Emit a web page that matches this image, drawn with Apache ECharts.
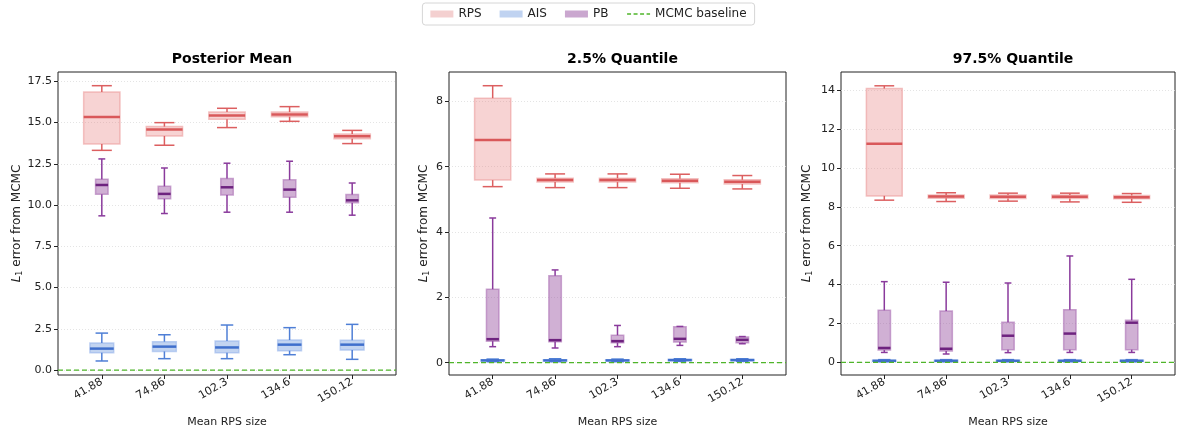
<!DOCTYPE html>
<html>
<head>
<meta charset="utf-8">
<script src="https://cdn.jsdelivr.net/npm/echarts@6/dist/echarts.min.js"></script>
<style>
  html, body { margin: 0; padding: 0; background: #fff; }
  #chart { width: 1177px; height: 429px; }
</style>
</head>
<body>
<div id="chart"></div>
<script>
// x categories
const sizes = ['41.88', '74.86', '102.3', '134.6', '150.12'];

// each box: [lower whisker, Q1, median, Q3, upper whisker]
const meanRPS = [[13.32, 13.71, 15.34, 16.85, 17.24], [13.63, 14.19, 14.59, 14.76, 15.0], [14.70, 15.2, 15.44, 15.64, 15.87], [15.08, 15.36, 15.5, 15.64, 15.97], [13.73, 14.03, 14.17, 14.31, 14.53]];
const meanAIS = [[0.55, 1.05, 1.30, 1.64, 2.24], [0.69, 1.13, 1.42, 1.72, 2.14], [0.69, 1.05, 1.37, 1.76, 2.73], [0.93, 1.17, 1.54, 1.82, 2.57], [0.65, 1.21, 1.54, 1.80, 2.77]];
const meanPB = [[9.35, 10.66, 11.22, 11.57, 12.80], [9.49, 10.38, 10.68, 11.14, 12.25], [9.57, 10.62, 11.08, 11.61, 12.54], [9.57, 10.48, 10.94, 11.53, 12.66], [9.39, 10.15, 10.29, 10.64, 11.34]];

const lowRPS = [[5.39, 5.59, 6.82, 8.10, 8.48], [5.36, 5.53, 5.59, 5.65, 5.78], [5.36, 5.53, 5.59, 5.65, 5.78], [5.34, 5.51, 5.57, 5.63, 5.77], [5.32, 5.47, 5.54, 5.60, 5.73]];
const lowAIS = [[0.03, 0.05, 0.07, 0.09, 0.11], [0.03, 0.05, 0.07, 0.09, 0.12], [0.03, 0.05, 0.07, 0.09, 0.11], [0.04, 0.06, 0.08, 0.10, 0.12], [0.04, 0.06, 0.08, 0.10, 0.12]];
const lowPB = [[0.49, 0.66, 0.72, 2.25, 4.43], [0.45, 0.64, 0.69, 2.66, 2.84], [0.49, 0.61, 0.66, 0.84, 1.14], [0.53, 0.63, 0.73, 1.10, 1.11], [0.58, 0.61, 0.70, 0.79, 0.80]];

const highRPS = [[8.34, 8.56, 11.24, 14.08, 14.22], [8.27, 8.44, 8.53, 8.61, 8.72], [8.29, 8.43, 8.51, 8.60, 8.70], [8.25, 8.43, 8.51, 8.60, 8.70], [8.23, 8.41, 8.49, 8.58, 8.68]];
const highAIS = [[0.03, 0.05, 0.08, 0.11, 0.14], [0.03, 0.05, 0.08, 0.11, 0.14], [0.03, 0.05, 0.08, 0.11, 0.14], [0.03, 0.05, 0.08, 0.11, 0.14], [0.03, 0.05, 0.08, 0.11, 0.14]];
const highPB = [[0.51, 0.63, 0.74, 2.68, 4.15], [0.43, 0.58, 0.70, 2.64, 4.12], [0.50, 0.65, 1.37, 2.06, 4.08], [0.51, 0.65, 1.48, 2.71, 5.47], [0.51, 0.65, 2.04, 2.16, 4.27]];

const yTicksMean = [0, 2.5, 5, 7.5, 10, 12.5, 15, 17.5];
const yTicksLow = [0, 2, 4, 6, 8];
const yTicksHigh = [0, 2, 4, 6, 8, 10, 12, 14];

const FONT = 'DejaVu Sans';
const styles = {
  RPS: { line: '#dc5f60', fill: 'rgba(230,120,120,0.33)', edge: 'rgba(235,150,150,0.55)', med: '#d9585a', box: 0.58, cap: 0.32 },
  AIS: { line: '#4f7fd6', fill: 'rgba(120,160,225,0.45)', edge: 'rgba(150,180,235,0.6)', med: '#3f6fcc', box: 0.38, cap: 0.2 },
  PB:  { line: '#8a3a9c', fill: 'rgba(150,80,160,0.45)', edge: 'rgba(170,110,180,0.6)', med: '#6e237f', box: 0.2, cap: 0.11 }
};

function boxRenderer(st) {
  return function (params, api) {
    const x = api.value(0);
    const lo = api.value(1), q1 = api.value(2), md = api.value(3), q3 = api.value(4), hi = api.value(5);
    const hw = st.box / 2, cw = st.cap / 2;
    const tl = api.coord([x - hw, q3]);
    const br = api.coord([x + hw, q1]);
    const c = (v) => api.coord([x, v]);
    const line = (a, b, s) => ({ type: 'line', shape: { x1: a[0], y1: a[1], x2: b[0], y2: b[1] }, style: s });
    const wh = { stroke: st.line, lineWidth: 1.5 };
    return {
      type: 'group',
      children: [
        { type: 'rect', shape: { x: tl[0], y: tl[1], width: br[0] - tl[0], height: Math.max(br[1] - tl[1], 0.5) },
          style: { fill: st.fill, stroke: st.edge, lineWidth: 1.5 } },
        line(c(q3), c(hi), wh),
        line(c(q1), c(lo), wh),
        line(api.coord([x - cw, hi]), api.coord([x + cw, hi]), wh),
        line(api.coord([x - cw, lo]), api.coord([x + cw, lo]), wh),
        line(api.coord([x - hw, md]), api.coord([x + hw, md]), { stroke: st.med, lineWidth: 2.5 })
      ]
    };
  };
}

function boxSeries(name, arr, idx) {
  return {
    name: name,
    type: 'custom',
    xAxisIndex: idx,
    yAxisIndex: idx,
    itemStyle: { color: styles[name].fill },
    renderItem: boxRenderer(styles[name]),
    encode: { x: 0, y: [1, 2, 3, 4, 5] },
    data: arr.map((b, i) => [i].concat(b)),
    silent: true,
    z: name === 'RPS' ? 2 : 3
  };
}

const panels = [
  { title: 'Posterior Mean', left: 58, width: 338, min: -0.3, max: 18.07, ticks: yTicksMean, fmt: (v) => v.toFixed(1), gap: 34, data: [meanRPS, meanAIS, meanPB] },
  { title: '2.5% Quantile', left: 449, width: 337, min: -0.377, max: 8.9, ticks: yTicksLow, fmt: (v) => String(v), gap: 18, data: [lowRPS, lowAIS, lowPB] },
  { title: '97.5% Quantile', left: 841, width: 334, min: -0.65, max: 14.93, ticks: yTicksHigh, fmt: (v) => String(v), gap: 27, data: [highRPS, highAIS, highPB] }
];

const grid = [], xAxis = [], yAxis = [], title = [], series = [];
panels.forEach((p, i) => {
  grid.push({ left: p.left, top: 72, width: p.width, height: 303, show: true, outerBoundsMode: 'none', containLabel: false,
    borderColor: '#222', borderWidth: 1, backgroundColor: 'transparent' });
  title.push({ text: p.title, left: p.left + p.width / 2, top: 47, textAlign: 'center',
    textStyle: { fontFamily: FONT, fontSize: 14, fontWeight: 'bold', color: '#000' } });
  xAxis.push({
    type: 'value', gridIndex: i, min: -0.7, max: 4.7,
    name: 'Mean RPS size', nameLocation: 'middle', nameGap: 42,
    nameTextStyle: { fontFamily: FONT, fontSize: 11, color: '#222' },
    axisLine: { show: false, onZero: false },
    axisTick: { show: true, customValues: [0, 1, 2, 3, 4], length: 4, lineStyle: { color: '#222' } },
    axisLabel: { customValues: [0, 1, 2, 3, 4], formatter: (v) => sizes[Math.round(v)], rotate: 30, margin: 6,
      fontFamily: FONT, fontSize: 11, color: '#222' },
    splitLine: { show: false }
  });
  yAxis.push({
    type: 'value', gridIndex: i, min: p.min, max: p.max,
    name: '{i|L}{s|1} error from MCMC', nameLocation: 'middle', nameRotate: 90, nameGap: p.gap,
    nameTextStyle: { fontFamily: FONT, fontSize: 12, color: '#222',
      rich: { i: { fontFamily: FONT, fontSize: 12, fontStyle: 'italic', color: '#222' },
              s: { fontFamily: FONT, fontSize: 8, color: '#222', padding: [6, 0, 0, 0] } } },
    axisLine: { show: false, onZero: false },
    axisTick: { show: true, customValues: p.ticks, length: 4, lineStyle: { color: '#222' } },
    axisLabel: { customValues: p.ticks, formatter: p.fmt, margin: 6, fontFamily: FONT, fontSize: 11, color: '#222' },
    splitLine: { show: true, lineStyle: { color: '#ddd', type: [1, 2], width: 0.8 } }
  });
  series.push(boxSeries('RPS', p.data[0], i));
  series.push(boxSeries('AIS', p.data[1], i));
  series.push(boxSeries('PB', p.data[2], i));
  series.push({
    name: 'MCMC baseline', type: 'line', xAxisIndex: i, yAxisIndex: i,
    data: [[-0.7, 0], [4.7, 0]], symbol: 'none', silent: true, z: 4,
    lineStyle: { color: '#4fb52a', width: 1.3, type: [5, 3] },
    itemStyle: { color: '#4fb52a' }
  });
});

const chart = echarts.init(document.getElementById('chart'), null, { renderer: 'canvas' });
chart.setOption({
  animation: false,
  backgroundColor: '#fff',
  title: title,
  legend: {
    top: 3, left: 'center',
    borderColor: '#d6d6d6', borderWidth: 1, borderRadius: 3, padding: [5, 8],
    itemWidth: 23, itemHeight: 7, itemGap: 18,
    textStyle: { fontFamily: FONT, fontSize: 12, color: '#222' },
    data: [
      { name: 'RPS', icon: 'rect', itemStyle: { color: 'rgba(230,150,150,0.45)' } },
      { name: 'AIS', icon: 'rect', itemStyle: { color: 'rgba(140,175,230,0.55)' } },
      { name: 'PB', icon: 'rect', itemStyle: { color: 'rgba(150,80,160,0.5)' } },
      { name: 'MCMC baseline', itemStyle: { opacity: 0 }, lineStyle: { color: '#4fb52a', width: 1.3, type: [4, 2.5] } }
    ]
  },
  grid: grid,
  xAxis: xAxis,
  yAxis: yAxis,
  series: series
});
</script>
</body>
</html>
